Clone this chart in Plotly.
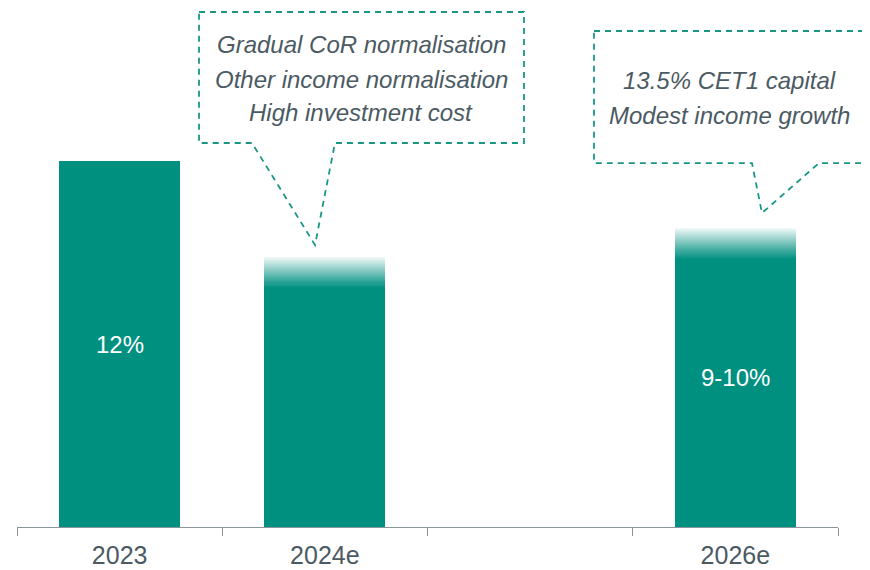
import plotly.graph_objects as go

# ---- data ----
categories = ["2023", "2024e", "", "2026e"]
solid_values = [12.0, 7.85, 0.0, 8.8]      # solid part of each bar
fade_values = [0.0, 1.0, 0.0, 1.0]         # faded (uncertain) top part
bar_labels = ["12%", "", "", "9-10%"]

callout_1_lines = ["Gradual CoR normalisation", "Other income normalisation", "High investment cost"]
callout_2_lines = ["13.5% CET1 capital", "Modest income growth"]

# ---- style ----
BAR = (0, 144, 128)
TEXT = "#4B5A63"
DASH = "#1A9685"
FONT = "Liberation Sans, Arial, sans-serif"
W, H = 870, 570
OFF = 8  # page body margin offset
# target plot area in page pixels: x 17..838, bottom 527
ML = 17 - OFF
MR = W - (838 - OFF)
MB = H - (527 - OFF)
MT = 0
PW, PH = W - ML - MR, H - MT - MB
YMAX = PH / 30.5

xpos = list(range(len(categories)))

fig = go.Figure()

# solid part
fig.add_trace(go.Bar(
    x=xpos, y=solid_values,
    marker=dict(color="rgb(%d,%d,%d)" % BAR, line=dict(width=0)),
    hoverinfo="skip", showlegend=False,
))

# faded part as thin stacked slices with decreasing opacity
N = 30
for i in range(N):
    a = 1.0 - (i + 0.5) / N * 0.95
    fig.add_trace(go.Bar(
        x=xpos, y=[f / N for f in fade_values],
        marker=dict(color="rgba(%d,%d,%d,%.3f)" % (BAR + (a,)), line=dict(width=0)),
        hoverinfo="skip", showlegend=False,
    ))

# bar value labels
for xi, s, f, lab in zip(xpos, solid_values, fade_values, bar_labels):
    if lab:
        fig.add_annotation(x=xi, y=(s + f) / 2, text=lab, showarrow=False,
                           font=dict(family=FONT, size=24, color="white"),
                           xanchor="center", yanchor="middle")


def px(xp):
    return (xp - OFF - ML) / PW


def py(yp):
    return (H - MB - (yp - OFF)) / PH


def callout(left, top, right, bottom, p1, p2, tip):
    pts = [(left, top), (right, top), (right, bottom), (p2, bottom), tip,
           (p1, bottom), (left, bottom)]
    path = "M " + " L ".join("%.4f,%.4f" % (px(a), py(b)) for a, b in pts) + " Z"
    fig.add_shape(type="path", path=path, xref="paper", yref="paper",
                  line=dict(color=DASH, width=1.8, dash="6px,5px"),
                  fillcolor="rgba(0,0,0,0)", layer="above")


callout(199, 12, 524, 143, 252, 335, (315, 245))
callout(594, 31, 865, 163, 752, 819, (762, 213))

for i, line in enumerate(callout_1_lines):
    fig.add_annotation(x=px(361), y=py(45 + 34 * i), xref="paper", yref="paper",
                       text="<i>%s</i>" % line, showarrow=False,
                       font=dict(family=FONT, size=24, color=TEXT),
                       xanchor="center", yanchor="middle")
for i, line in enumerate(callout_2_lines):
    fig.add_annotation(x=px(729), y=py(81 + 34 * i), xref="paper", yref="paper",
                       text="<i>%s</i>" % line, showarrow=False,
                       font=dict(family=FONT, size=24, color=TEXT),
                       xanchor="center", yanchor="middle")

fig.update_layout(
    width=W, height=H,
    margin=dict(l=ML, r=MR, t=MT, b=MB, autoexpand=False),
    barmode="stack", bargap=0.41,
    plot_bgcolor="white", paper_bgcolor="white",
    font=dict(family=FONT, color=TEXT),
    xaxis=dict(
        range=[-0.5, len(categories) - 0.5],
        tickmode="array", tickvals=xpos, ticktext=categories,
        ticks="", tickangle=0, automargin=False, ticklabelstandoff=6,
        minor=dict(tick0=-0.5, dtick=1, ticks="outside", ticklen=8,
                   tickcolor="#8A9499", tickwidth=1.3, showgrid=False),
        showline=True, linecolor="#8A9499", linewidth=1.3,
        showgrid=False, zeroline=False, fixedrange=True,
        tickfont=dict(family=FONT, size=25, color=TEXT),
    ),
    yaxis=dict(range=[0, YMAX], visible=False, showgrid=False, zeroline=False),
)

fig.write_html("out.html")
